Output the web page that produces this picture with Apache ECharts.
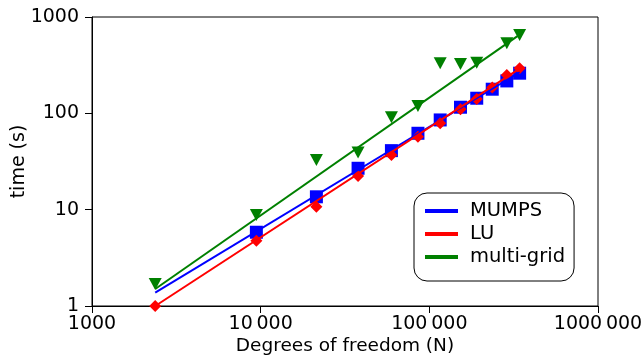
<!DOCTYPE html>
<html>
<head>
<meta charset="utf-8">
<script src="https://cdn.jsdelivr.net/npm/echarts@6/dist/echarts.min.js"></script>
<style>
  html, body { margin: 0; padding: 0; background: #fff; }
  #chart { width: 642px; height: 359px; }
</style>
</head>
<body>
<div id="chart"></div>
<script>
// Degrees of freedom of each test problem
const dof = [2370, 9430, 21400, 37800, 59600, 85600, 116000, 153000, 191000, 236000, 288000, 343000];
// Solve times in seconds (null = no run)
const mumpsTime = [null, 5.83, 13.6, 26.9, 41.0, 62.1, 85.4, 115.7, 143.5, 178, 217, 261];
const luTime = [1.0, 4.77, 10.7, 22.4, 37.0, 57.3, 78.9, 110.3, 141, 185, 250, 294];
const multigridTime = [1.69, 8.81, 32.7, 39.1, 91.1, 119.4, 331, 326, 336, null, 535, 652];

// Power-law fit lines: end points over the measured range
const fitRange = [2370, 343000];
const mumpsFit = [1.375, 267];
const luFit = [1.0, 291];
const multigridFit = [1.5, 656];

// Tick labels per decade
const xTickLabels = ['1000', '10\u2009000', '100\u2009000', '1000\u2009000'];
const yTickLabels = ['1', '10', '100', '1000'];

const seriesNames = ['MUMPS', 'LU', 'multi-grid'];
const colors = ['#0000ff', '#ff0000', '#008000'];

const FONT = 'DejaVu Sans';

function points(xs, ys) {
  return xs.map((x, i) => [x, ys[i]]).filter(p => p[1] != null);
}

const chart = echarts.init(document.getElementById('chart'), null, { renderer: 'canvas' });

const scatterStyle = (name, color, symbol, size, rotate) => ({
  type: 'scatter',
  name: name + ' data',
  symbol: symbol,
  symbolSize: size,
  symbolRotate: rotate || 0,
  itemStyle: { color: color, opacity: 1 },
  z: 2
});

const fitLine = (name, color, ys) => ({
  type: 'line',
  name: name,
  data: points(fitRange, ys),
  showSymbol: false,
  symbol: 'none',
  lineStyle: { color: color, width: 2 },
  itemStyle: { color: color },
  z: 3,
  animation: false
});

chart.setOption({
  animation: false,
  textStyle: { fontFamily: FONT },
  grid: {
    left: 92, top: 17, width: 506, height: 289,
    containLabel: false,
    outerBoundsMode: 'none',
    show: true, borderColor: '#000', borderWidth: 1, backgroundColor: 'transparent'
  },
  xAxis: {
    type: 'log', logBase: 10, min: 1000, max: 1000000,
    name: 'Degrees of freedom (N)', nameLocation: 'middle', nameGap: 31,
    nameMoveOverlap: false,
    nameTextStyle: { fontFamily: FONT, fontSize: 18.5, color: '#000' },
    axisLine: { lineStyle: { color: '#000', width: 1 } },
    axisTick: { show: true, length: 7, inside: false, lineStyle: { color: '#000', width: 1 } },
    minorTick: { show: false },
    splitLine: { show: false },
    axisLabel: {
      fontFamily: FONT, fontSize: 19, color: '#000', margin: 9,
      formatter: v => xTickLabels[Math.round(Math.log10(v)) - 3] || ''
    }
  },
  yAxis: {
    type: 'log', logBase: 10, min: 1, max: 1000,
    name: 'time (s)', nameLocation: 'middle', nameGap: 63,
    nameMoveOverlap: false,
    nameTextStyle: { fontFamily: FONT, fontSize: 19, color: '#000' },
    axisLine: { show: true, lineStyle: { color: '#000', width: 1 } },
    axisTick: { show: true, length: 7, inside: false, lineStyle: { color: '#000', width: 1 } },
    minorTick: { show: false },
    splitLine: { show: false },
    axisLabel: {
      fontFamily: FONT, fontSize: 19, color: '#000', margin: 13,
      formatter: v => yTickLabels[Math.round(Math.log10(v))] || ''
    }
  },
  legend: {
    orient: 'vertical',
    left: 414, top: 193,
    padding: [7, 9, 13, 11],
    itemWidth: 33, itemHeight: 4,
    itemGap: 1,
    icon: 'rect',
    backgroundColor: '#fff',
    borderColor: '#000', borderWidth: 1, borderRadius: 13,
    data: seriesNames,
    textStyle: {
      fontFamily: FONT, fontSize: 19.5, color: '#000',
      lineHeight: 22, padding: [0, 0, 0, 7]
    },
    selectedMode: false
  },
  series: [
    Object.assign(scatterStyle(seriesNames[0], colors[0], 'rect', 13), { data: points(dof, mumpsTime) }),
    fitLine(seriesNames[0], colors[0], mumpsFit),
    Object.assign(scatterStyle(seriesNames[1], colors[1], 'diamond', [12, 12]), { data: points(dof, luTime) }),
    fitLine(seriesNames[1], colors[1], luFit),
    Object.assign(scatterStyle(seriesNames[2], colors[2], 'triangle', [13, 12], 180), { data: points(dof, multigridTime) }),
    fitLine(seriesNames[2], colors[2], multigridFit)
  ]
});
</script>
</body>
</html>
